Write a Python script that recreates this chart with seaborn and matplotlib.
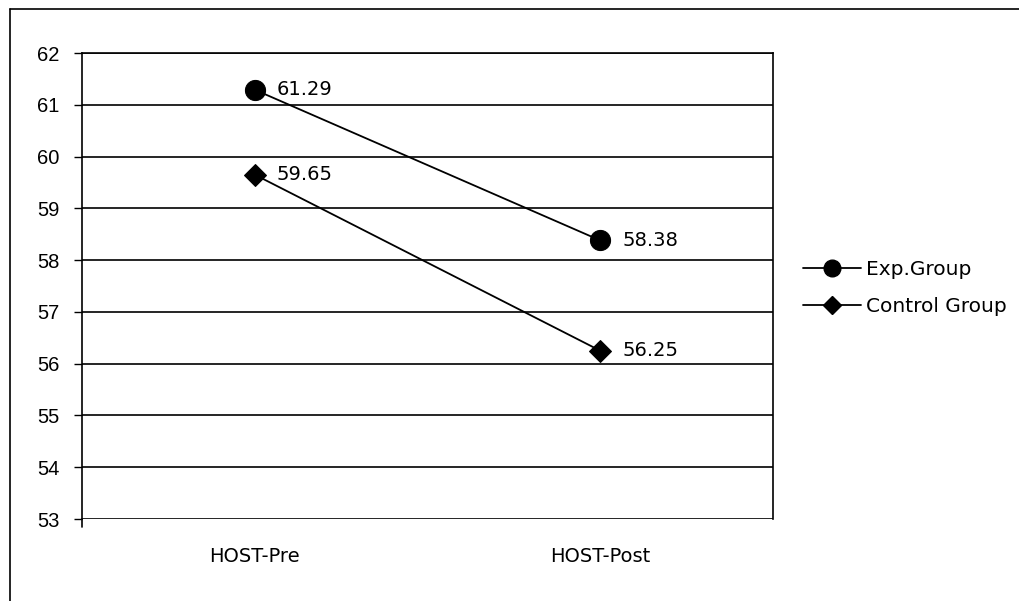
import matplotlib
matplotlib.use("Agg")
import matplotlib.pyplot as plt
from matplotlib.lines import Line2D
import seaborn as sns
import pandas as pd

# Chart data
tests = ["HOST-Pre", "HOST-Post"]
exp_group = [61.29, 58.38]
control_group = [59.65, 56.25]
groups = ["Exp.Group", "Control Group"]
y_ticks = [53, 54, 55, 56, 57, 58, 59, 60, 61, 62]

df = pd.DataFrame({
    "test": tests * 2,
    "score": exp_group + control_group,
    "group": [groups[0]] * 2 + [groups[1]] * 2,
})

sns.set_theme(style="white")
plt.rcParams["font.family"] = ["DejaVu Sans"]
plt.rcParams["text.color"] = "black"
plt.rcParams["xtick.color"] = "black"
plt.rcParams["ytick.color"] = "black"
plt.rcParams["xtick.labelcolor"] = "black"
plt.rcParams["ytick.labelcolor"] = "black"

W, H = 1019, 601
fig = plt.figure(figsize=(W / 100, H / 100), dpi=100)
ax = fig.add_axes([82 / W, (H - 519) / H, 691 / W, (519 - 53) / H])

sns.lineplot(
    data=df, x="test", y="score", hue="group", style="group",
    markers={groups[0]: "o", groups[1]: "D"}, dashes=False,
    palette=["black", "black"], markersize=14.5, linewidth=1.3,
    markeredgecolor="black", sort=False, legend=False, ax=ax,
)
for line in ax.lines:
    if line.get_marker() == "D":
        line.set_markersize(11)

ax.set_xlim(-0.5, 1.5)
ax.set_ylim(53, 62)
ax.set_yticks(y_ticks)
ax.set_yticklabels([str(t) for t in y_ticks], family="Liberation Sans",
                   fontsize=14.5)
ax.set_xticks(range(len(tests)))
ax.set_xticklabels(tests, fontsize=14)
ax.set_xlabel("")
ax.set_ylabel("")
ax.tick_params(axis="y", length=6, width=1, color="black", left=True, pad=10)
ax.tick_params(axis="x", length=0, pad=20)

for y in y_ticks:
    ax.axhline(y, color="black", linewidth=1.2, zorder=0)

for side in ["left", "right", "top"]:
    ax.spines[side].set_visible(True)
    ax.spines[side].set_color("black")
    ax.spines[side].set_linewidth(1.2)
ax.spines["bottom"].set_visible(False)
# left axis runs a little below the lowest gridline
ax.plot([0, 0], [0, -0.017], transform=ax.transAxes, color="black",
        linewidth=1.2, clip_on=False)

# value labels
for vals in (exp_group, control_group):
    for i, v in enumerate(vals):
        ax.annotate(f"{v:.2f}", (i, v), xytext=(16, 0),
                    textcoords="offset points", va="center", ha="left",
                    fontsize=14)

# legend
handles = [
    Line2D([], [], color="black", marker="o", markersize=12, linewidth=1.3),
    Line2D([], [], color="black", marker="D", markersize=9, linewidth=1.3),
]
fig.legend(handles, groups, loc="center left",
           bbox_to_anchor=(803 / W, 1 - 288 / H), frameon=False,
           fontsize=14.5, handlelength=2.9, handletextpad=0.25,
           labelspacing=0.9, borderaxespad=0, borderpad=0)

# outer chart border
fig.add_artist(Line2D([10 / W, 10 / W], [1 - 9 / H, 0], color="black",
                      linewidth=1.2, transform=fig.transFigure))
fig.add_artist(Line2D([10 / W, 1], [1 - 9 / H, 1 - 9 / H], color="black",
                      linewidth=1.2, transform=fig.transFigure))

fig.savefig("out.png", dpi=100)
